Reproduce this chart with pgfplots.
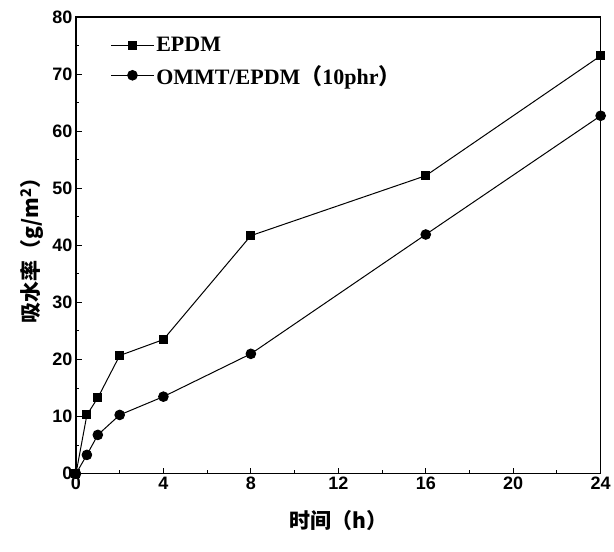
\documentclass[border=0pt]{standalone}
\usepackage{pgfplots}
\pgfplotsset{compat=1.18}
\usepackage{fontspec}
\setmainfont{Liberation Serif}
\newfontfamily\cjk{Noto Sans CJK SC}
\newfontfamily\tickfont{Liberation Sans}
\begin{document}
\begin{tikzpicture}
\begin{axis}[
  scale only axis,
  width=525pt, height=457pt,
  xmin=0, xmax=24, ymin=0, ymax=80,
  xtick={0,4,8,12,16,20,24},
  ytick={0,10,20,30,40,50,60,70,80},
  minor x tick num=1, minor y tick num=1,
  tick align=inside,
  xtick pos=bottom, ytick pos=left,
  major tick length=6pt, minor tick length=3.5pt,
  axis line style={line width=1.2pt},
  tick style={line width=1pt, black},
  /pgf/number format/assume math mode=true,
  ticklabel style={font=\tickfont\bfseries\fontsize{18}{18}\selectfont},
  xlabel={\cjk\bfseries 时间（h）},
  ylabel={\cjk\bfseries 吸水率（g/m\textsuperscript{2}）},
  label style={font=\fontsize{21}{21}\selectfont},
  xlabel style={yshift=-14pt},
  ylabel style={yshift=2pt},
  legend style={draw=none, fill=none, at={(0.06,0.965)}, anchor=north west,
    font=\bfseries\fontsize{22}{22}\selectfont, row sep=8pt},
  legend cell align=left,
  legend image code/.code={
    \draw[#1, mark repeat=2, mark phase=2] plot coordinates {(0cm,0cm) (0.75cm,0cm) (1.5cm,0cm)};
  },
]
\addplot[black, line width=1pt, mark=square*, mark size=4pt] coordinates {
(0,0) (0.5,10.3) (1,13.3) (2,20.7) (4,23.5) (8,41.7) (16,52.2) (24,73.2)};
\addlegendentry{EPDM}
\addplot[black, line width=1pt, mark=*, mark size=4.8pt] coordinates {
(0,0) (0.5,3.3) (1,6.8) (2,10.3) (4,13.5) (8,21.0) (16,41.9) (24,62.7)};
\addlegendentry{OMMT/EPDM{\cjk （}10phr{\cjk ）}}
\end{axis}
\path (current axis.south west) ++(-76pt,-78pt) coordinate (bl);
\path (current axis.north east) ++(13pt,17pt) coordinate (tr);
\useasboundingbox (bl) rectangle (tr);
\end{tikzpicture}
\end{document}
